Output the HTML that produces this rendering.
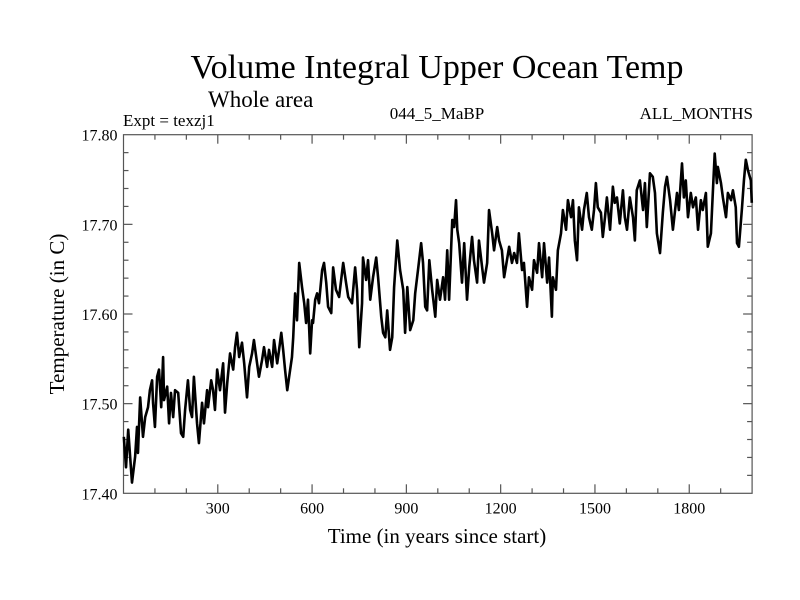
<!DOCTYPE html>
<html>
<head>
<meta charset="utf-8">
<style>
html,body{margin:0;padding:0;background:#fff;}
svg{display:block;font-family:"Liberation Serif","Times New Roman",serif;}
</style>
</head>
<body>
<svg id="chart" width="800" height="600" viewBox="0 0 800 600" xmlns="http://www.w3.org/2000/svg">
  <rect x="0" y="0" width="800" height="600" fill="#fff"/>
  <text x="437" y="78" font-size="34" text-anchor="middle">Volume Integral Upper Ocean Temp</text>
  <text x="208" y="107" font-size="23">Whole area</text>
  <text x="123" y="126" font-size="17">Expt = texzj1</text>
  <text x="437" y="119" font-size="17" text-anchor="middle">044_5_MaBP</text>
  <text x="753" y="119" font-size="17" text-anchor="end">ALL_MONTHS</text>
  <g id="axes"></g>
  <g id="series"></g>
  <text x="437" y="543" font-size="21" text-anchor="middle">Time (in years since start)</text>
  <text transform="translate(64,314) rotate(-90)" font-size="21" text-anchor="middle">Temperature (in C)</text>
</svg>
<script>
const years = [1,8,15,27,37,43,46,53,62,69,78,84,91,94,100,107,113,120,126,129,139,145,151,158,164,174,183,190,196,205,212,218,224,234,240,250,256,266,269,279,285,291,298,307,317,323,330,339,349,355,361,368,377,384,393,400,409,415,425,431,441,447,457,463,473,479,489,495,502,508,514,521,527,536,540,546,552,559,568,575,581,587,594,600,603,610,616,622,632,638,645,651,661,667,676,686,699,708,715,727,737,743,750,759,762,772,778,785,794,804,810,820,826,833,839,848,855,861,871,880,890,896,903,912,922,928,938,947,953,960,966,973,982,992,998,1007,1017,1023,1030,1036,1046,1052,1058,1062,1068,1077,1084,1093,1100,1109,1115,1125,1131,1141,1147,1157,1163,1173,1179,1189,1195,1204,1211,1220,1227,1236,1243,1252,1258,1268,1274,1284,1290,1300,1306,1316,1322,1332,1338,1348,1354,1363,1366,1376,1382,1392,1398,1408,1414,1424,1430,1436,1443,1449,1459,1465,1474,1481,1490,1497,1503,1509,1519,1525,1532,1538,1548,1557,1563,1570,1579,1589,1595,1602,1611,1621,1627,1633,1643,1653,1659,1665,1675,1684,1691,1697,1707,1716,1723,1729,1739,1748,1755,1761,1767,1777,1783,1789,1796,1805,1812,1821,1828,1837,1843,1853,1859,1869,1875,1881,1888,1891,1901,1907,1917,1923,1933,1939,1948,1952,1958,1968,1974,1980,1987,1996,1999];
const temps = [17.463,17.429,17.471,17.412,17.441,17.474,17.445,17.507,17.463,17.485,17.496,17.515,17.526,17.501,17.474,17.530,17.538,17.496,17.552,17.504,17.519,17.478,17.512,17.485,17.515,17.512,17.467,17.463,17.493,17.526,17.493,17.485,17.530,17.478,17.456,17.501,17.478,17.515,17.496,17.526,17.515,17.493,17.538,17.515,17.545,17.490,17.523,17.556,17.538,17.563,17.579,17.552,17.568,17.545,17.507,17.541,17.556,17.571,17.545,17.530,17.549,17.563,17.541,17.560,17.541,17.571,17.545,17.560,17.579,17.560,17.538,17.515,17.530,17.552,17.574,17.623,17.593,17.657,17.630,17.612,17.590,17.616,17.556,17.593,17.590,17.616,17.623,17.612,17.649,17.657,17.635,17.608,17.601,17.652,17.627,17.619,17.657,17.635,17.619,17.612,17.652,17.627,17.563,17.612,17.663,17.638,17.660,17.616,17.641,17.663,17.641,17.597,17.579,17.574,17.604,17.560,17.574,17.630,17.682,17.649,17.627,17.579,17.630,17.582,17.593,17.623,17.652,17.679,17.657,17.608,17.604,17.660,17.627,17.597,17.638,17.616,17.641,17.616,17.671,17.616,17.705,17.697,17.727,17.694,17.679,17.635,17.679,17.616,17.652,17.686,17.660,17.635,17.682,17.652,17.635,17.657,17.716,17.690,17.671,17.697,17.682,17.671,17.641,17.660,17.675,17.657,17.668,17.657,17.690,17.649,17.657,17.608,17.641,17.627,17.660,17.646,17.679,17.641,17.679,17.635,17.663,17.597,17.641,17.627,17.671,17.690,17.716,17.694,17.727,17.708,17.727,17.682,17.660,17.719,17.694,17.716,17.735,17.708,17.694,17.716,17.746,17.719,17.713,17.686,17.708,17.730,17.694,17.742,17.724,17.730,17.701,17.738,17.708,17.694,17.730,17.708,17.682,17.738,17.749,17.716,17.746,17.697,17.757,17.753,17.735,17.690,17.668,17.713,17.742,17.753,17.727,17.694,17.716,17.735,17.716,17.768,17.730,17.749,17.708,17.735,17.719,17.730,17.694,17.727,17.716,17.735,17.675,17.690,17.735,17.779,17.746,17.764,17.746,17.730,17.708,17.735,17.727,17.738,17.719,17.679,17.675,17.719,17.749,17.772,17.760,17.749,17.724];
const xTickLabels = [300,600,900,1200,1500,1800];
const yTickLabels = ["17.40","17.50","17.60","17.70","17.80"];

const L=123.5, R=752.1, T=134.7, B=493.3;
const X0=0, X1=2000, Y0=17.4, Y1=17.8;
function xs(v){return L+(v-X0)/(X1-X0)*(R-L);}
function ys(v){return B-(v-Y0)/(Y1-Y0)*(B-T);}
const NS="http://www.w3.org/2000/svg";
const axes=document.getElementById('axes');
const series=document.getElementById('series');
function mk(tag,attrs,parent){const e=document.createElementNS(NS,tag);for(const k in attrs)e.setAttribute(k,attrs[k]);parent.appendChild(e);return e;}

let d='';
for(let i=0;i<years.length;i++){d+=(i?'L':'M')+xs(years[i]).toFixed(2)+' '+ys(temps[i]).toFixed(2);}
const line=mk('path',{d:d,fill:'none',stroke:'#000','stroke-width':'2.6','stroke-linejoin':'round'},series);



const frame=mk('rect',{x:L,y:T,width:R-L,height:B-T,fill:'none',stroke:'#555','stroke-width':'1.2'},axes);



for(let v=100;v<2000;v+=100){
  const major=(v%300===0);
  const len=major?9:5;
  const x=xs(v);
  const t1=mk('line',{x1:x,y1:B,x2:x,y2:B-len,stroke:'#555','stroke-width':'1.2'},axes);
  
  
  const t2=mk('line',{x1:x,y1:T,x2:x,y2:T+len,stroke:'#555','stroke-width':'1.2'},axes);
  
  
}
xTickLabels.forEach(v=>{
  const t=mk('text',{x:xs(v),y:B+20,'font-size':'16','text-anchor':'middle'},axes);
  t.textContent=v;
  
  
});
for(let i=1;i<20;i++){
  const v=Y0+i*0.02;
  const major=(i%5===0);
  const len=major?9:5;
  const y=ys(v);
  const t1=mk('line',{x1:L,y1:y,x2:L+len,y2:y,stroke:'#555','stroke-width':'1.2'},axes);
  
  
  const t2=mk('line',{x1:R,y1:y,x2:R-len,y2:y,stroke:'#555','stroke-width':'1.2'},axes);
  
  
}
yTickLabels.forEach(s=>{
  const t=mk('text',{x:L-6,y:ys(parseFloat(s))+6,'font-size':'16','text-anchor':'end'},axes);
  t.textContent=s;
  
  
});
</script>
</body>
</html>
